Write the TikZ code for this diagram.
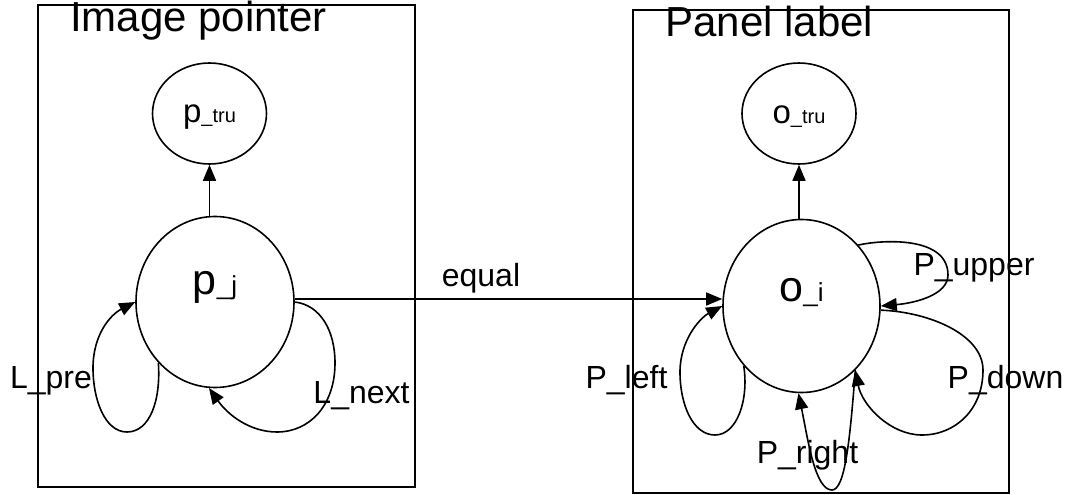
\documentclass[tikz,border=0pt]{standalone}
\usepackage{fontspec}
\setmainfont{Liberation Sans}
\usetikzlibrary{shapes.geometric,arrows.meta,calc}

\begin{document}
\begin{tikzpicture}[x=1pt,y=-1pt,>={Triangle[length=16pt,width=13pt]},
  state/.style={ellipse,draw,line width=1.6pt,inner sep=0pt,minimum width=158pt,minimum height=171pt},
  truth/.style={ellipse,draw,line width=1.6pt,inner sep=0pt,minimum width=114pt,minimum height=101pt},
  frame/.style={draw,line width=1.6pt},
  arc/.style={->,line width=1.6pt},
  ttl/.style={font=\fontsize{42}{46}\selectfont,anchor=base,inner sep=0pt},
  lbl/.style={font=\fontsize{32}{36}\selectfont,anchor=base,inner sep=0pt},
  big/.style={font=\fontsize{43}{46}\selectfont,anchor=base,inner sep=0pt},
  small/.style={font=\fontsize{33}{36}\selectfont,anchor=base,inner sep=0pt}]
  \useasboundingbox (0,0) rectangle (1072,495);
  % panels
  \draw[frame] (38,5) rectangle (415,487);
  \draw[frame] (633,10) rectangle (1009,493);
  \node[ttl] (imgttl) at (198.5,32) {Image pointer};
  \node[ttl] (panttl) at (769.5,37) {Panel label};
  % states
  \node[state,label={[big,yshift=15pt]center:{p\fontsize{26}{28}\selectfont\_j}}] (pj) at (215,302) {};
  \node[truth,label={[small,yshift=-3.5pt]center:{p\fontsize{20}{22}\selectfont\_tru}}] (ptru) at (209.5,113.5) {};
  \node[state,minimum width=157pt,minimum height=173pt,label={[big,yshift=13pt]center:{o\fontsize{26}{28}\selectfont\_i}}] (oi) at (801.5,306) {};
  \node[truth,label={[small,yshift=-3.5pt]center:{o\fontsize{20}{22}\selectfont\_tru}}] (otru) at (799,113.5) {};
  % edge labels
  \node[lbl] (lpre) at (51,388) {L\_pre};
  \node[lbl] (lnext) at (361.5,403) {L\_next};
  \node[lbl] (eq) at (481,286) {equal};
  \node[lbl] (pup) at (974,275) {P\_upper};
  \node[lbl] (pdown) at (1005.5,388) {P\_down};
  \node[lbl] (pright) at (807.5,463) {P\_right};
  \node[lbl] (pleft) at (626.5,388) {P\_left};
  % connectors
  \draw[arc] (ptru |- pj.north) -- (ptru.south);
  \draw[arc] (otru |- oi.north) -- (otru.south);
  \draw[arc] ($(pj.east)+(0,-3)$) -- ($(pj.east -| oi.west)+(0,-3)$);
  \draw[arc] (pj.227) .. controls (161,400) and (150,432) .. (127,432)
    .. controls (105,432) and (93,400) .. (93,368)
    .. controls (93,335) and (110,315) .. (pj.180);
  \draw[arc] (pj.0) .. controls (320,305) and (335,330) .. (335,363)
    .. controls (335,405) and (310,432) .. (277,432)
    .. controls (250,432) and (228,415) .. (pj.266);
  \draw[arc] (oi.226) .. controls (749,400) and (737,435) .. (715,435)
    .. controls (693,435) and (680,405) .. (680,372)
    .. controls (680,340) and (700,318) .. (oi.180);
  \draw[arc] (oi.47) .. controls (880,240) and (948,235) .. (948,275)
    .. controls (948,295) and (915,303) .. (oi.0);
  \draw[arc] (oi.357) .. controls (930,312) and (983,335) .. (983,370)
    .. controls (983,410) and (955,435) .. (922,435)
    .. controls (890,435) and (862,405) .. (oi.310);
  \draw[arc] (oi.310) .. controls (850,440) and (845,490) .. (832,490)
    .. controls (815,490) and (808,440) .. (oi.268);
\end{tikzpicture}
\end{document}
